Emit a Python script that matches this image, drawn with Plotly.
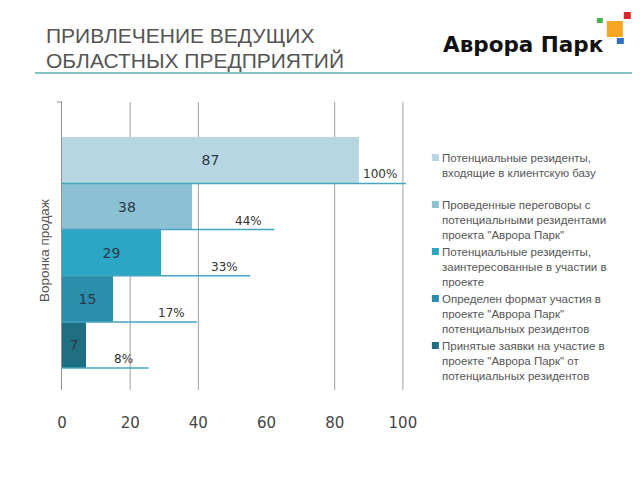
import plotly.graph_objects as go

# ---- data ----
STAGES = [
    "Потенциальные резиденты,<br>входящие в клиентскую базу",
    "Проведенные переговоры с<br>потенциальными резидентами<br>проекта \"Аврора Парк\"",
    "Потенциальные резиденты,<br>заинтересованные в участии в<br>проекте",
    "Определен формат участия в<br>проекте \"Аврора Парк\"<br>потенциальных резидентов",
    "Принятые заявки на участие в<br>проекте \"Аврора Парк\" от<br>потенциальных резидентов",
]
VALUES = [87, 38, 29, 15, 7]
PCT_LABELS = ["100%", "44%", "33%", "17%", "8%"]
PCT_LINE = [100.9, 62.3, 55.2, 39.6, 25.4]
X_TICKS = [0, 20, 40, 60, 80, 100]
GRID_X = [20, 40, 80, 100]
COLORS = ["#b6d7e1", "#8cc1d3", "#2ba7c5", "#2b8fab", "#1e6f82"]

TITLE_LINES = ["ПРИВЛЕЧЕНИЕ ВЕДУЩИХ", "ОБЛАСТНЫХ ПРЕДПРИЯТИЙ"]
LOGO = "Аврора Парк"
Y_TITLE = "Воронка продаж"

# ---- layout geometry (page pixels; the page body adds an 8px offset) ----
OFF = 8
W, H = 640 - OFF, 480 - OFF
L, T = 62 - OFF, 102 - OFF
PB = 390 - OFF
XMAX = 101.5
PW = 3.41 * XMAX
R = W - L - PW
B = H - PB
PH = PB - T


def px(xp):
    return (xp - OFF - L) / PW


def py(yp):
    return (PB - (yp - OFF)) / PH


fig = go.Figure()

rows = list(range(len(VALUES)))
for i, v in enumerate(VALUES):
    fig.add_trace(go.Bar(
        y=[rows[i]], x=[v], orientation="h", width=1, base=0,
        marker=dict(color=COLORS[i], line=dict(width=0)),
        text=[str(v)], textposition="inside", insidetextanchor="middle",
        textfont=dict(family="DejaVu Sans", size=14, color="#2a3848"),
        name=STAGES[i], showlegend=False, hoverinfo="skip",
    ))

for i, e in enumerate(PCT_LINE):
    fig.add_trace(go.Scatter(
        x=[0, e], y=[rows[i] + 0.5, rows[i] + 0.5], mode="lines",
        line=dict(color="#45a6bf", width=1.5), showlegend=False, hoverinfo="skip",
    ))

annotations = []
shapes = []

for i, (e, lab) in enumerate(zip(PCT_LINE, PCT_LABELS)):
    annotations.append(dict(
        x=e - 7.5, y=rows[i] + 0.5, xref="x", yref="y", text=lab,
        showarrow=False, xanchor="center", yanchor="bottom",
        font=dict(family="DejaVu Sans", size=12, color="#333333"),
    ))

for g in GRID_X:
    shapes.append(dict(type="line", xref="x", yref="paper", x0=g, x1=g, y0=0, y1=1,
                       line=dict(color="#a0a0a0", width=1), layer="below"))
# small tick at top of the value axis
shapes.append(dict(type="line", xref="paper", yref="paper", x0=px(57), x1=px(62),
                   y0=1, y1=1, line=dict(color="#909090", width=1)))

# title
for k, line in enumerate(TITLE_LINES):
    annotations.append(dict(
        x=px(44), y=py(36 + 25 * k), xref="paper", yref="paper", text=line,
        showarrow=False, xanchor="left", yanchor="middle",
        font=dict(family="Liberation Sans", size=21, color="#555555"),
    ))
shapes.append(dict(type="line", xref="paper", yref="paper", x0=px(35), x1=px(640),
                   y0=py(73), y1=py(73), line=dict(color="#5aaeb6", width=1.5)))

# logo
annotations.append(dict(
    x=px(441), y=py(45), xref="paper", yref="paper", text="<b>" + LOGO + "</b>",
    showarrow=False, xanchor="left", yanchor="middle",
    font=dict(family="DejaVu Sans", size=21.5, color="#111111"),
))
for (x0, y0, x1, y1, c) in [(597, 18, 603, 23, "#4caf50"), (624, 12, 631, 19, "#d9262c"),
                            (607, 21, 623, 37, "#f5a623"), (617, 38, 624, 44, "#2f6fc4")]:
    shapes.append(dict(type="rect", xref="paper", yref="paper", x0=px(x0), x1=px(x1),
                       y0=py(y1), y1=py(y0), fillcolor=c, line=dict(width=0)))

# y-axis title
annotations.append(dict(
    x=px(44), y=py(251), xref="paper", yref="paper", text=Y_TITLE, textangle=-90,
    showarrow=False, xanchor="center", yanchor="middle",
    font=dict(family="Liberation Sans", size=13.5, color="#555555"),
))

# manual legend
for i, name in enumerate(STAGES):
    top = 150 + 47 * i
    shapes.append(dict(type="rect", xref="paper", yref="paper", x0=px(432), x1=px(439),
                       y0=py(top + 11), y1=py(top + 4), fillcolor=COLORS[i],
                       line=dict(width=0)))
    annotations.append(dict(
        x=px(440), y=py(top), xref="paper", yref="paper", text=name,
        showarrow=False, xanchor="left", yanchor="top", align="left",
        font=dict(family="Liberation Sans", size=11.5, color="#555555"),
    ))

fig.update_layout(
    width=W, height=H,
    margin=dict(l=L, r=R, t=T, b=B, pad=0),
    paper_bgcolor="white", plot_bgcolor="white",
    bargap=0, barmode="overlay",
    showlegend=False,
    xaxis=dict(range=[0, XMAX], tickvals=X_TICKS, showgrid=False, zeroline=False,
               showline=False, ticks="", ticklabelstandoff=22,
               tickfont=dict(family="DejaVu Sans", size=15, color="#444444")),
    yaxis=dict(range=[4.976, -1.264], showticklabels=False, showgrid=False,
               zeroline=False, showline=True, linecolor="#909090", linewidth=1,
               ticks=""),
    annotations=annotations, shapes=shapes,
)

fig.write_html("out.html")
